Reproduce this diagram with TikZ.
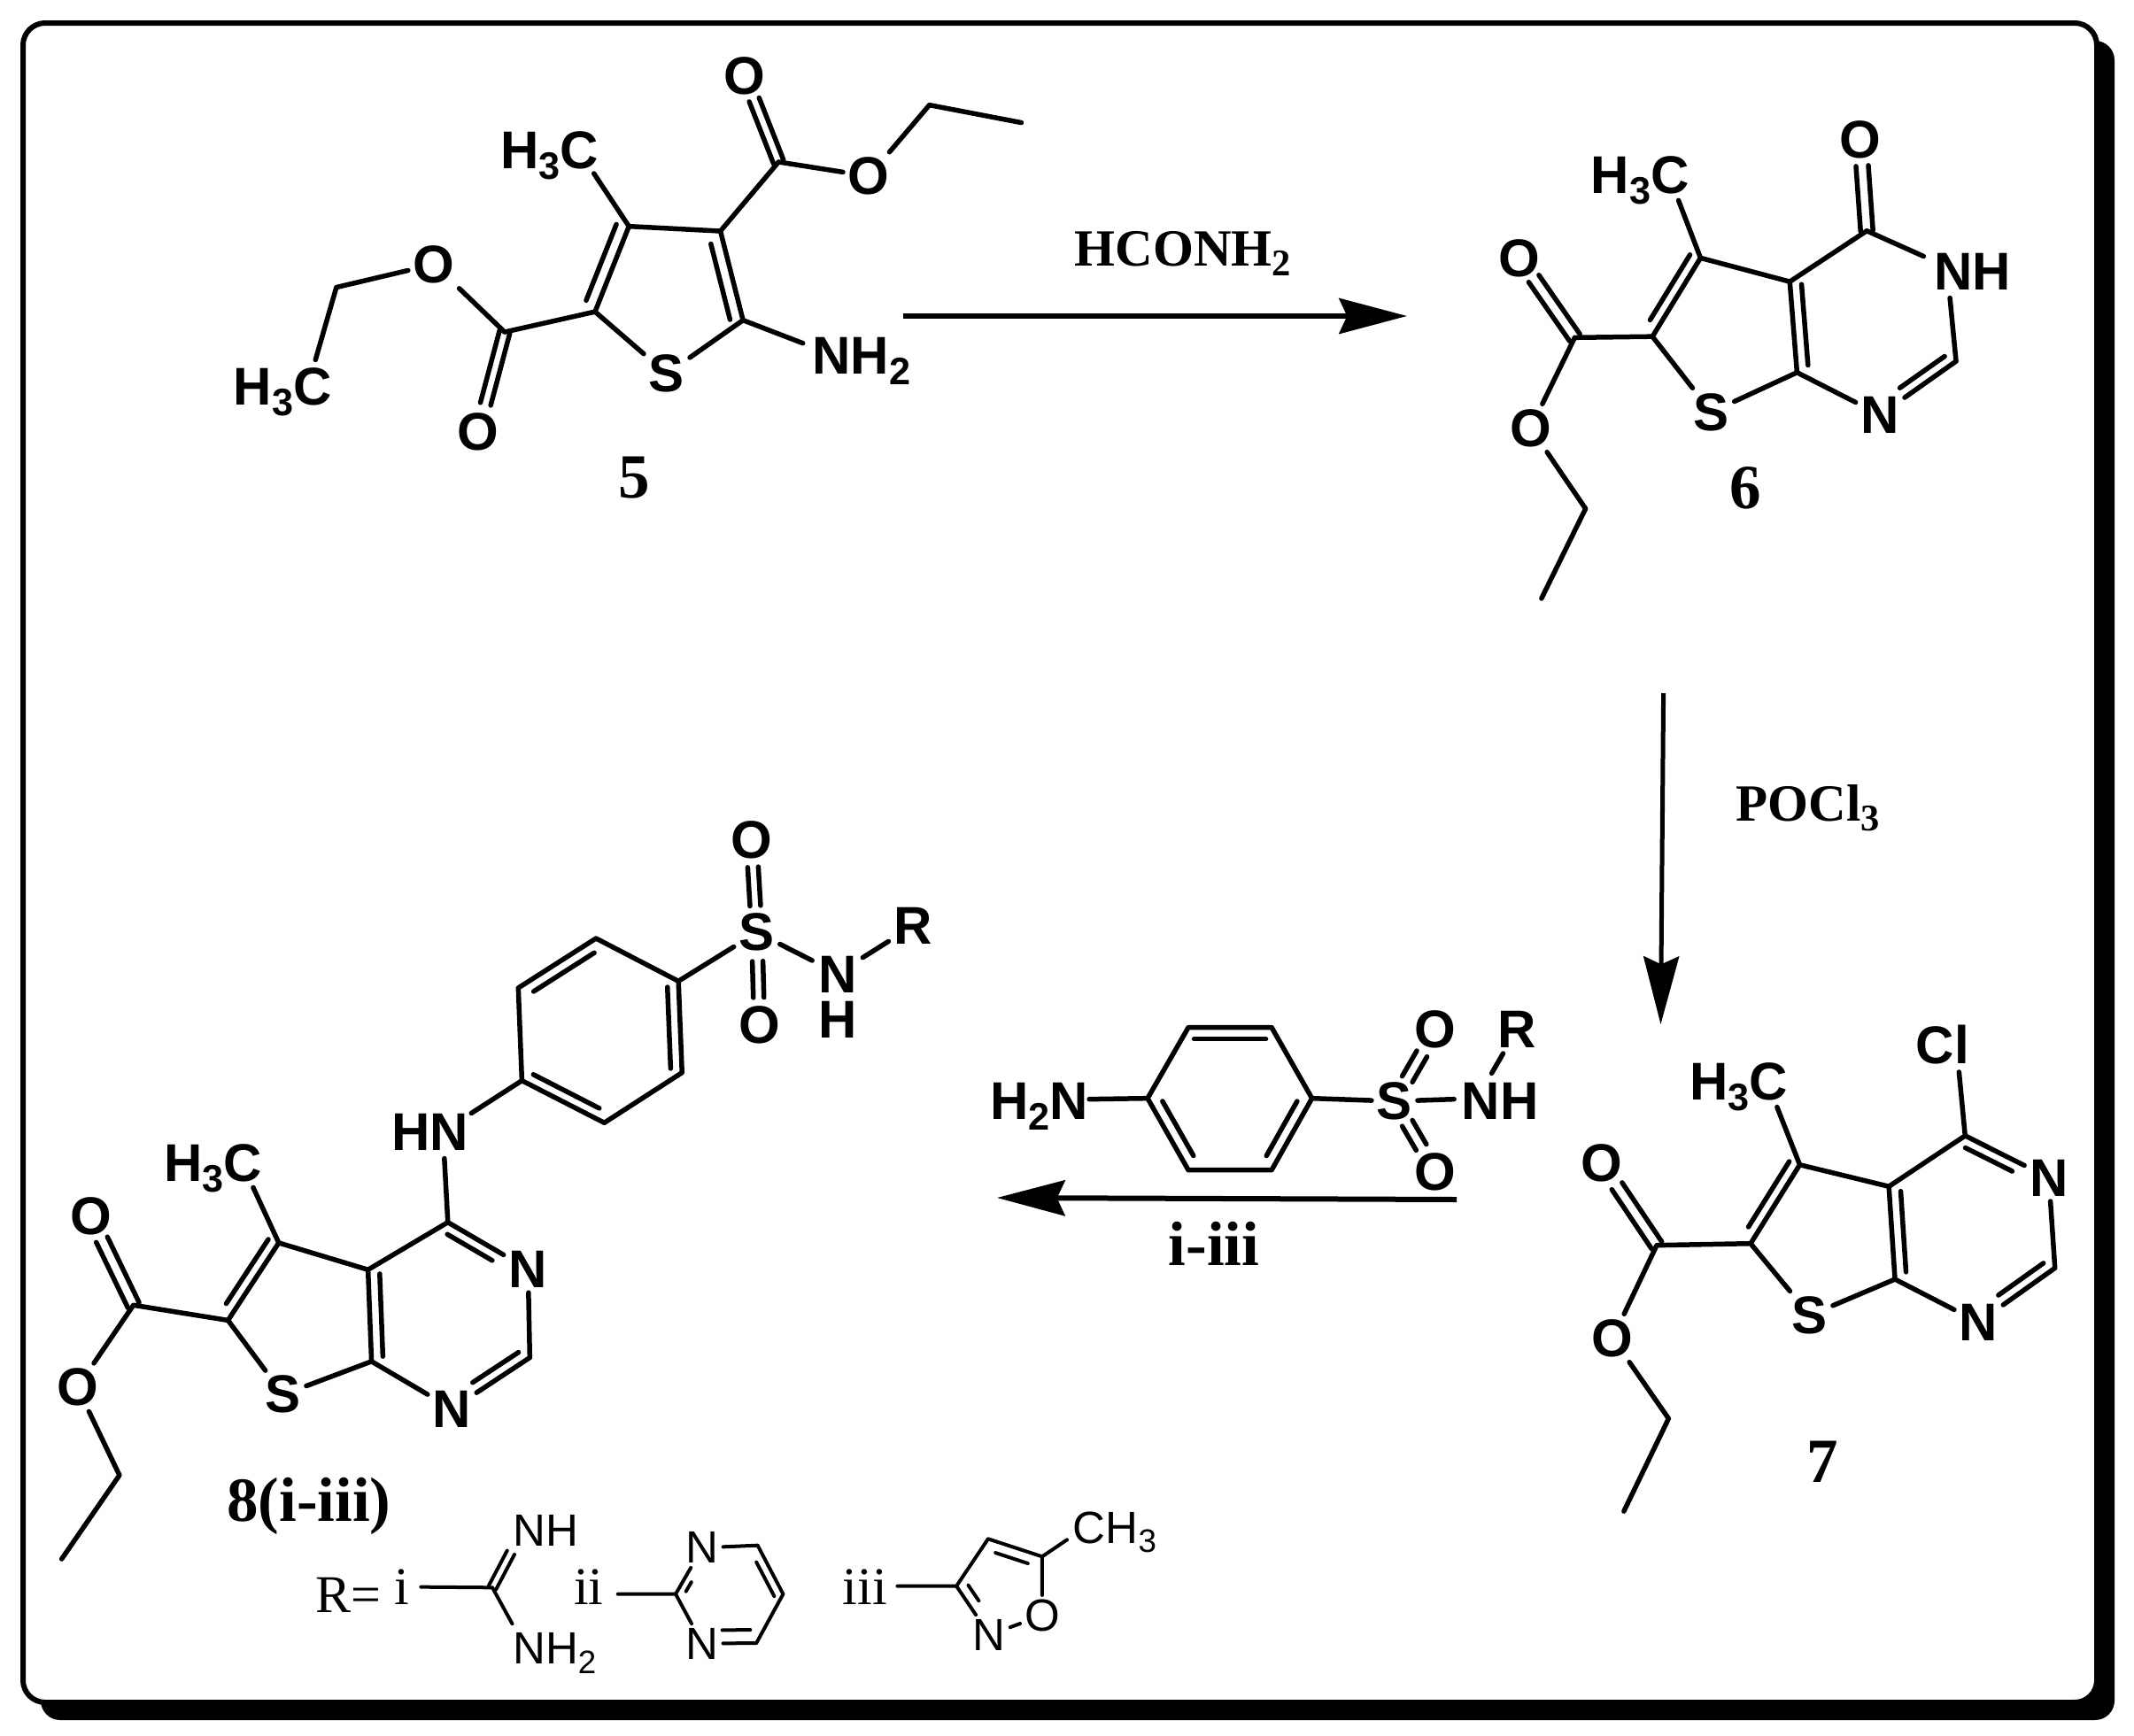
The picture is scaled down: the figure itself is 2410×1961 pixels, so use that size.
\documentclass[tikz,border=0pt]{standalone}
\usepackage{fontspec}
\usepackage{graphicx}
\setmainfont{Liberation Sans}
\newfontfamily\srf{Liberation Serif}
\usetikzlibrary{calc,arrows.meta}
\newcommand\sbs[1]{\raisebox{-.2em}{\scalebox{.72}{#1}}}
% inner line of a double bond: a, b, offset, start and end fractions
\newcommand\dbl[5]{\begin{scope}\pgftransformreset\draw[bd] ($(#1)!#4!(#2)!#3!90:(#2)$) -- ($(#1)!#5!(#2)!#3!90:(#2)$);\end{scope}}
% both lines of a double bond, centred on a--b
\newcommand\dbp[5]{\dbl{#1}{#2}{#3}{#4}{#5}\dbl{#1}{#2}{-#3}{#4}{#5}}
\tikzset{
  bd/.style={line width=1.65pt,line cap=round,line join=round},
  atom/.style={inner sep=0pt,outer sep=1.8pt,font=\bfseries\fontsize{18}{18}\selectfont},
  lbl/.style={atom,outer sep=0pt,anchor=base west},
  tatom/.style={inner sep=0pt,outer sep=1.5pt,font=\fontsize{15.3}{15.3}\selectfont},
  tlbl/.style={tatom,outer sep=0pt,anchor=base west},
  num/.style={inner sep=0pt,anchor=base,font=\srf\bfseries\fontsize{21.3}{21.3}\selectfont},
  reag/.style={inner sep=0pt,anchor=base west,font=\srf\bfseries\fontsize{17.7}{17.7}\selectfont},
  rlab/.style={inner sep=0pt,anchor=base,font=\srf\fontsize{18}{18}\selectfont},
  rxn/.style={line width=1.8pt,-{Stealth[length=23pt,width=12pt,inset=2.7pt]}},
}
\begin{document}
\begin{tikzpicture}[x=0.3pt,y=-0.3pt]
\useasboundingbox (0,0) rectangle (2410,1961);
% frame with shadow
\fill[black,rounded corners=6.6pt] (46,46) rectangle (2388,1943);
\draw[fill=white,line width=1.8pt,rounded corners=7.5pt] (26,26) rectangle (2368,1923);

% ---- compound 5
\begin{scope}[shift={(200,0)},xscale=.6378,yscale=.3827]
\coordinate (a5) at (800,668); \coordinate (b5) at (962,682); \coordinate (c5) at (1002,945);
\coordinate (d5) at (740,920); \coordinate (e5) at (1065,478); \coordinate (f5) at (1332,310);
\coordinate (g5) at (1495,362); \coordinate (h5) at (580,980); \coordinate (i5) at (282,848);
\coordinate (nh5s) at (1108,1013); \coordinate (me5s) at (738,512); \coordinate (et5s) at (245,1062);
\node[atom] (s5) at (867,1103) {S};
\node[atom] (o5a) at (1005,223) {O};
\node[atom] (o5b) at (1225,520) {O};
\node[atom] (o5c) at (455,780) {O};
\node[atom] (o5d) at (533,1275) {O};
\node[lbl] (nh5) at (1125,1105) {NH\sbs{2}};
\node[lbl] (me5) at (573,498) {H\sbs{3}C};
\node[lbl] (et5) at (100,1195) {H\sbs{3}C};
\node[num] (n5) at (810,1470) {5};
\draw[bd] (a5)--(b5) (b5)--(c5) (d5)--(a5) (d5)--(s5) (c5)--(s5) (c5)--(nh5s) (a5)--(me5s) (b5)--(e5)
  (e5)--(o5b) (o5b)--(f5) (f5)--(g5) (d5)--(h5) (h5)--(o5c) (o5c)--(i5) (i5)--(et5s);
\dbl{d5}{a5}{4.2pt}{.08}{.97}
\dbl{c5}{b5}{4.2pt}{.04}{.89}
\dbp{e5}{o5a}{1.8pt}{0}{.72}
\dbp{h5}{o5d}{1.8pt}{0}{.72}
\end{scope}

% ---- compound 6
\begin{scope}[shift={(1660,100)},xscale=.4082,yscale=.3827]
\coordinate (a6) at (638,500); \coordinate (b6) at (885,570); \coordinate (c6) at (905,838);
\coordinate (d6) at (505,732); \coordinate (e6) at (1098,420); \coordinate (g6) at (1345,805);
\coordinate (h6) at (290,735); \coordinate (i6) at (320,1240); \coordinate (j6) at (198,1505);
\coordinate (nh6a) at (1255,495); \coordinate (nh6b) at (1328,618); \coordinate (me6s) at (577,330);
\node[atom] (s6) at (668,955) {S};
\node[atom] (n6) at (1135,963) {N};
\node[atom] (o6a) at (1080,150) {O};
\node[atom] (o6b) at (137,500) {O};
\node[atom] (o6c) at (168,1002) {O};
\node[lbl] (nh6) at (1285,595) {NH};
\node[lbl] (me6) at (335,310) {H\sbs{3}C};
\node[num] (n6l) at (763,1240) {6};
\draw[bd] (a6)--(b6) (b6)--(c6) (d6)--(a6) (d6)--(s6) (s6)--(c6) (c6)--(n6) (n6)--(g6) (g6)--(nh6b)
  (e6)--(nh6a) (b6)--(e6) (a6)--(me6s) (d6)--(h6) (h6)--(o6c) (o6c)--(i6) (i6)--(j6);
\dbl{d6}{a6}{3.6pt}{.14}{.97}
\dbl{c6}{b6}{-3.9pt}{.07}{.96}
\dbl{g6}{n6}{-3.6pt}{.07}{.66}
\dbp{e6}{o6a}{2.1pt}{0}{.71}
\dbp{h6}{o6b}{2.1pt}{0}{.74}
\end{scope}

% ---- compound 7
\begin{scope}[shift={(1760,1120)},xscale=.3827,yscale=.3954]
\coordinate (a7) at (712,495); \coordinate (b7) at (975,557); \coordinate (c7) at (993,822);
\coordinate (d7) at (567,720); \coordinate (e7) at (1200,412); \coordinate (g7) at (1465,790);
\coordinate (h7) at (290,725); \coordinate (i7) at (325,1220); \coordinate (j7) at (193,1485);
\coordinate (cl7s) at (1182,230); \coordinate (me7s) at (645,330);
\node[atom] (s7) at (742,925) {S};
\node[atom] (n7a) at (1447,532) {N};
\node[atom] (n7b) at (1240,945) {N};
\node[atom] (o7a) at (127,490) {O};
\node[atom] (o7b) at (160,990) {O};
\node[lbl] (cl7) at (1055,207) {Cl};
\node[lbl] (me7) at (388,310) {H\sbs{3}C};
\node[num] (n7l) at (780,1403) {7};
\draw[bd] (a7)--(b7) (b7)--(c7) (d7)--(a7) (d7)--(s7) (s7)--(c7) (c7)--(n7b) (n7b)--(g7) (g7)--(n7a)
  (n7a)--(e7) (b7)--(e7) (e7)--(cl7s) (a7)--(me7s) (d7)--(h7) (h7)--(o7b) (o7b)--(i7) (i7)--(j7);
\dbl{d7}{a7}{3.6pt}{.14}{.97}
\dbl{c7}{b7}{-3.9pt}{.07}{.94}
\dbl{g7}{n7b}{-3.6pt}{.07}{.66}
\dbl{e7}{n7a}{-3.6pt}{.06}{.62}
\dbp{h7}{o7a}{2.1pt}{0}{.72}
\end{scope}

% ---- compound 8
\begin{scope}[shift={(40,1220)},xscale=.3954,yscale=.3571]
\coordinate (a8) at (695,515); \coordinate (b8) at (950,600); \coordinate (c8) at (960,890);
\coordinate (d8) at (550,760); \coordinate (e8) at (1178,450); \coordinate (g8) at (1412,878);
\coordinate (h8) at (280,712); \coordinate (i8) at (240,1250); \coordinate (j8) at (75,1515);
\coordinate (hn8a) at (1168,248); \coordinate (hn8b) at (1245,105); \coordinate (me8s) at (622,340);
\node[atom] (s8) at (708,995) {S};
\node[atom] (n8a) at (1407,598) {N};
\node[atom] (n8b) at (1190,1040) {N};
\node[atom] (o8a) at (158,432) {O};
\node[atom] (o8b) at (120,972) {O};
\node[lbl] (hn8) at (1018,222) {HN};
\node[lbl] (me8) at (368,320) {H\sbs{3}C};
\node[num,anchor=base west] (n8l) at (545,1395) {8(i-iii)};
\draw[bd] (a8)--(b8) (b8)--(c8) (d8)--(a8) (d8)--(s8) (s8)--(c8) (c8)--(n8b) (n8b)--(g8) (g8)--(n8a)
  (n8a)--(e8) (b8)--(e8) (e8)--(hn8a) (a8)--(me8s) (d8)--(h8) (h8)--(o8b) (o8b)--(i8) (i8)--(j8);
\dbl{d8}{a8}{3.6pt}{.14}{.97}
\dbl{c8}{b8}{-3.9pt}{.05}{.95}
\dbl{g8}{n8b}{-3.6pt}{.07}{.66}
\dbl{e8}{n8a}{-3.6pt}{.06}{.62}
\dbp{h8}{o8a}{2.1pt}{0}{.74}
\end{scope}

% ---- sulfonamide aryl of 8
\begin{scope}[shift={(420,890)},xscale=.4082,yscale=.3333]
\coordinate (r1) at (415,992); \coordinate (r2) at (405,678); \coordinate (r3) at (620,510);
\coordinate (r4) at (848,655); \coordinate (r5) at (858,965); \coordinate (r6) at (643,1135);
\coordinate (nrs1) at (1218,585); \coordinate (nrs2) at (1358,575);
\node[atom] (sr) at (1065,490) {S};
\node[atom] (ora) at (1050,178) {O};
\node[atom] (orb) at (1072,805) {O};
\node[atom,outer sep=0pt,align=center,font=\bfseries\fontsize{18}{15.3}\selectfont] (nr) at (1290,708) {N\\H};
\node[atom] (rr) at (1497,468) {R};
\draw[bd] (r1)--(r2) (r2)--(r3) (r3)--(r4) (r4)--(r5) (r5)--(r6) (r6)--(r1) (r4)--(sr) (sr)--(nrs1) (nrs2)--(rr) (hn8b)--(r1);
\dbl{r2}{r3}{-3.8pt}{.12}{.9}
\dbl{r4}{r5}{-3.8pt}{.06}{.95}
\dbl{r1}{r6}{3.6pt}{.08}{.88}
\dbp{sr}{ora}{1.8pt}{.29}{.71}
\dbp{sr}{orb}{1.8pt}{.31}{.70}
\end{scope}

% ---- 4-aminobenzenesulfonamide reagent
\begin{scope}[shift={(1100,1120)},xscale=.4337,yscale=.3333]
\coordinate (p1) at (452,362); \coordinate (p2) at (558,122); \coordinate (p3) at (775,122);
\coordinate (p4) at (880,362); \coordinate (p5) at (775,605); \coordinate (p6) at (558,605);
\coordinate (h2ns) at (300,365); \coordinate (nhqa) at (1250,365); \coordinate (nhqb) at (1348,277);
\node[atom] (sq) at (1095,372) {S};
\node[atom] (oqa) at (1202,130) {O};
\node[atom] (oqb) at (1202,612) {O};
\node[atom] (rq) at (1413,130) {R};
\node[lbl] (h2nq) at (42,435) {H\sbs{2}N};
\node[lbl] (nhq) at (1270,435) {NH};
\draw[bd] (p1)--(p2) (p2)--(p3) (p3)--(p4) (p4)--(p5) (p5)--(p6) (p6)--(p1) (h2ns)--(p1) (p4)--(sq) (sq)--(nhqa) (nhqb)--(rq);
\dbl{p2}{p3}{-3.9pt}{.07}{.93}
\dbl{p4}{p5}{-3.9pt}{.12}{.88}
\dbl{p6}{p1}{-3.9pt}{.12}{.88}
\dbp{sq}{oqa}{2pt}{.31}{.665}
\dbp{sq}{oqb}{2pt}{.31}{.65}
\end{scope}

% ---- R groups
\begin{scope}[shift={(300,1650)},xscale=.7015,yscale=.3333,bd/.style={line width=1.2pt,line cap=round,line join=round}]
\node[rlab,anchor=base west] (rg) at (80,515) {R=};
\node[rlab] (ri) at (220,488) {i};
\node[rlab] (rii) at (520,488) {ii};
\node[rlab] (riii) at (965,488) {iii};
\coordinate (ci0) at (250,428); \coordinate (ci) at (365,430); \coordinate (nhis) at (395,310); \coordinate (nh2is) at (397,553);
\node[tlbl] (nhi) at (398,290) {NH};
\node[tlbl] (nh2i) at (398,690) {NH\sbs{2}};
\draw[bd] (ci0)--(ci) (ci)--(nh2is);
\dbp{ci}{nhis}{1.4pt}{0}{.99}
\coordinate (t0) at (567,452); \coordinate (t1) at (660,452); \coordinate (t2) at (792,287);
\coordinate (t3) at (833,452); \coordinate (t4) at (790,618);
\node[tatom] (n1t) at (703,295) {N};
\node[tatom] (n3t) at (703,620) {N};
\draw[bd] (t0)--(t1) (t1)--(n1t) (t1)--(n3t) (n1t)--(t2) (t2)--(t3) (t3)--(t4) (t4)--(n3t);
\dbl{t1}{n1t}{-2.6pt}{.14}{.34}
\dbl{t2}{t3}{-3pt}{.26}{.96}
\dbl{t4}{n3t}{-4.5pt}{.11}{.63}
\coordinate (q0) at (1017,425); \coordinate (q1) at (1112,425); \coordinate (q2) at (1163,265);
\coordinate (q3) at (1250,325); \coordinate (qme) at (1290,268);
\node[tatom] (oq) at (1250,525) {O};
\node[tatom] (nq) at (1165,590) {N};
\node[tlbl] (ch3q) at (1300,280) {CH\sbs{3}};
\draw[bd] (q0)--(q1) (q1)--(q2) (q2)--(q3) (q3)--(qme) (q3)--(oq) (q1)--(nq) (nq)--(oq);
\dbl{q2}{q3}{-3.7pt}{.2}{.8}
\dbl{q1}{nq}{3.5pt}{.1}{.42}
\end{scope}

% ---- reaction arrows and reagents
\coordinate (a1s) at (1020,357); \coordinate (a1e) at (1589,357);
\coordinate (a2s) at (1878.6,783); \coordinate (a2e) at (1875.5,1157);
\coordinate (a3s) at (1645,1355); \coordinate (a3e) at (1126,1353);
\draw[rxn] (a1s)--(a1e);
\draw[rxn,line width=1.5pt] (a2s)--(a2e);
\draw[rxn] (a3s)--(a3e);
\node[reag] (hco) at (1213,300) {HCONH\sbs{2}};
\node[reag] (pocl) at (1960,927) {POCl\sbs{3}};
\node[num,anchor=base] (iiii) at (1371,1429) {i-iii};
\end{tikzpicture}
\end{document}
